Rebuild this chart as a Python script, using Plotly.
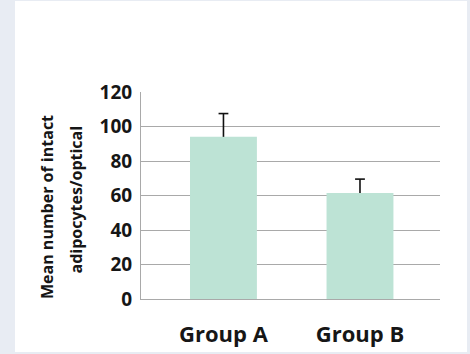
import plotly.graph_objects as go

# Data
groups = ["Group A", "Group B"]
means = [94, 61.5]
err_up = [13.5, 8]
y_ticks = [0, 20, 40, 60, 80, 100, 120]

W, H = 470, 354
L, R, T, B = 141, 30, 92, 55
pw, ph = W - L - R, H - T - B


def px_x(px):
    return (px - L) / pw


def px_y(py):
    return (H - B - py) / ph


bar_color = "#bde3d5"
text_color = "#161616"
grid_color = "#a9a9a9"
font_family = "'Open Sans', sans-serif"

fig = go.Figure()
fig.add_trace(go.Bar(
    x=groups,
    y=means,
    width=0.49,
    marker=dict(color=bar_color, line=dict(width=0)),
))

# upper-only error bars: stem from bar top to mean + error, with a cap
stem_x, stem_y = [], []
for g, m, e in zip(groups, means, err_up):
    stem_x += [g, g, None]
    stem_y += [m, m + e, None]
fig.add_trace(go.Scatter(
    x=stem_x, y=stem_y, mode="lines",
    line=dict(color="#111111", width=1.6), hoverinfo="skip",
))
fig.add_trace(go.Scatter(
    x=groups, y=[m + e for m, e in zip(means, err_up)], mode="markers",
    marker=dict(symbol="line-ew", size=7, line=dict(color="#111111", width=1.6)),
    hoverinfo="skip",
))

fig.update_layout(
    width=W, height=H,
    margin=dict(l=L, r=R, t=T, b=B),
    paper_bgcolor="#e8ecf3",
    plot_bgcolor="rgba(0,0,0,0)",
    showlegend=False,
    font=dict(family=font_family, color=text_color),
    shapes=[dict(type="rect", xref="paper", yref="paper",
                 x0=px_x(15), x1=px_x(467), y0=px_y(352), y1=px_y(1),
                 fillcolor="white", line=dict(width=0), layer="below")],
    annotations=[
        dict(text="<b>Mean number of intact</b>", xref="paper", yref="paper",
             x=px_x(46.5), y=px_y(207.5), textangle=-90, showarrow=False,
             font=dict(size=16, color=text_color), xanchor="center", yanchor="middle"),
        dict(text="<b>adipocytes/optical</b>", xref="paper", yref="paper",
             x=px_x(75.5), y=px_y(200), textangle=-90, showarrow=False,
             font=dict(size=16, color=text_color), xanchor="center", yanchor="middle"),
    ],
)

fig.update_yaxes(
    range=[0, 120], tickvals=y_ticks, ticktext=[f"<b>{v}</b>" for v in y_ticks],
    showgrid=True, gridcolor=grid_color, gridwidth=1,
    showline=True, linecolor=grid_color, linewidth=1,
    zeroline=False, ticks="", ticklabelstandoff=4, automargin=False,
    tickfont=dict(size=19, color=text_color),
)
fig.update_xaxes(
    range=[-0.604, 1.586],
    tickvals=groups, ticktext=[f"<b>{g}</b>" for g in groups],
    showline=True, linecolor=grid_color, linewidth=1,
    showgrid=False, zeroline=False, ticks="", ticklabelstandoff=16, automargin=False,
    tickfont=dict(size=22, color=text_color),
)

fig.write_html("out.html")
